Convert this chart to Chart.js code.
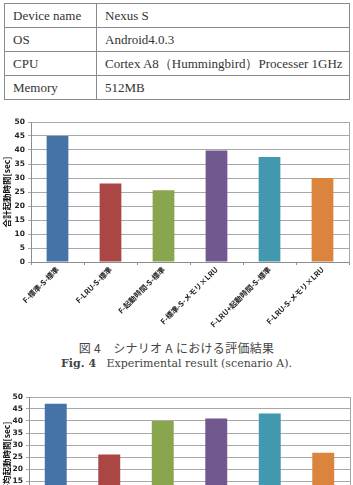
<!DOCTYPE html>
<html>
<head>
<meta charset="utf-8">
<script src="https://cdn.jsdelivr.net/npm/chart.js@4/dist/chart.umd.min.js"></script>
<style>
  html, body { margin: 0; padding: 0; background: #fff; }
  body { width: 353px; height: 485px; overflow: hidden; position: relative; }
  table.spec { position: absolute; left: 4px; top: 3px; width: 346px; border-collapse: collapse;
    font-family: "Liberation Serif", "DejaVu Serif", serif; font-size: 13px; color: #333; }
  table.spec td { border: 1px solid #8a8a8a; height: 23px; padding: 0 0 0 8px; line-height: 14px; }
  table.spec td:first-child { width: 83px; }
  .box { position: absolute; left: 0; width: 353px; }
  .cap { position: absolute; left: 0; width: 353px; text-align: center; color: #444; white-space: pre; }
</style>
</head>
<body>
<table class="spec">
  <tr><td>Device name</td><td>Nexus S</td></tr>
  <tr><td>OS</td><td>Android4.0.3</td></tr>
  <tr><td>CPU</td><td>Cortex A8（Hummingbird）Processer 1GHz</td></tr>
  <tr><td>Memory</td><td>512MB</td></tr>
</table>

<div class="box" style="top:108px;height:220px;"><canvas id="c1"></canvas></div>
<div class="cap" style="top:339px;font-size:12px;font-family:'Noto Sans CJK JP',sans-serif;letter-spacing:0.3px;">図 4　シナリオ A における評価結果</div>
<div class="cap" style="top:357px;font-size:11px;font-family:'DejaVu Serif',serif;"><b>Fig. 4</b>   Experimental result (scenario A).</div>
<div class="box" style="top:383px;height:200px;"><canvas id="c2"></canvas></div>

<script>
const categories = ["F-標準-S-標準", "F-LRU-S-標準", "F-起動時間-S-標準", "F-標準-S-メモリ×LRU", "F-LRU+起動時間-S-標準", "F-LRU-S-メモリ×LRU"];
const totalLaunchTime = [45, 28, 25.6, 39.8, 37.5, 30];
const avgLaunchTime = [47.2, 26, 40, 41, 43.1, 26.8];
const yTicks = [0, 5, 10, 15, 20, 25, 30, 35, 40, 45, 50];
const barColors = ["#4572A7", "#AA4643", "#89A54E", "#71588F", "#4198AF", "#DB843D"];
const titleA = "合計起動時間[sec]";
const titleB = "平均起動時間[sec]";

const fontFam = "'Noto Sans CJK JP', 'DejaVu Sans', sans-serif";

function makeChart(id, values, title, yWidth, padRight, xHeight) {
  return new Chart(document.getElementById(id), {
    type: 'bar',
    data: {
      labels: categories,
      datasets: [{ data: values, backgroundColor: barColors, borderWidth: 0,
                   categoryPercentage: 1.0, barPercentage: 0.41 }]
    },
    options: {
      responsive: true, maintainAspectRatio: false, animation: false,
      layout: { padding: { top: 14, right: padRight, left: 0, bottom: 0 } },
      plugins: { legend: { display: false }, tooltip: { enabled: false } },
      scales: {
        x: {
          offset: true,
          grid: { display: true, drawOnChartArea: false, offset: true, tickLength: 3, color: '#8c8c8c' },
          border: { color: '#8c8c8c', width: 1 },
          ticks: { autoSkip: false, minRotation: 45, maxRotation: 45, padding: 0,
                   color: '#222', font: { family: fontFam, size: 7.5, weight: 'bold' } },
          afterFit: s => { s.height = xHeight; }
        },
        y: {
          min: 0, max: 50,
          afterBuildTicks: s => { s.ticks = yTicks.map(v => ({ value: v })); },
          grid: { color: '#a8a8a8', lineWidth: 1, tickLength: 3 },
          border: { color: '#8c8c8c', width: 1 },
          ticks: { padding: 3, color: '#222', font: { family: "'DejaVu Sans', sans-serif", size: 7.5, weight: 'bold' } },
          title: { display: true, text: title, color: '#111', padding: { top: 2, bottom: 0 },
                   font: { family: fontFam, size: 8.5, weight: 'bold' } },
          afterFit: s => { s.width = yWidth; }
        },
        y2: {
          position: 'right', min: 0, max: 50,
          grid: { display: false },
          ticks: { display: false },
          border: { display: true, color: '#a8a8a8', width: 1 },
          afterFit: s => { s.width = 0; }
        }
      }
    }
  });
}

makeChart('c1', totalLaunchTime, titleA, 31, 4, 66);
makeChart('c2', avgLaunchTime, titleB, 29, 3, 66);
</script>
</body>
</html>
